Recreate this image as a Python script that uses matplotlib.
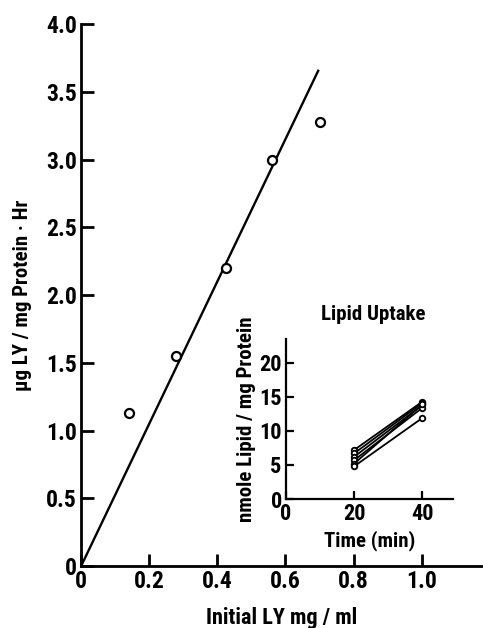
import matplotlib
matplotlib.use("Agg")
import matplotlib.pyplot as plt
from matplotlib import font_manager

# pick a narrow bold sans if one is around, otherwise Liberation Sans
available = {f.name for f in font_manager.fontManager.ttflist}
family = 'Liberation Sans'
for cand in ['Roboto Condensed', 'Liberation Sans Narrow', 'Archivo Narrow', 'PT Sans Narrow']:
    if cand in available:
        family = cand
        break
plt.rcParams['font.family'] = [family, 'DejaVu Sans']
plt.rcParams['font.weight'] = 'bold'

# main panel: LY uptake vs initial LY concentration
ly_conc = [0.14, 0.28, 0.425, 0.56, 0.70]
ly_rate = [1.13, 1.55, 2.20, 3.00, 3.28]
fit_x = [0.0, 0.696]
fit_y = [0.0, 3.655]
main_xticks = [0, 0.2, 0.4, 0.6, 0.8, 1.0]
main_xlabels = ["0", "0.2", "0.4", "0.6", "0.8", "1.0"]
main_yticks = [0, 0.5, 1.0, 1.5, 2.0, 2.5, 3.0, 3.5, 4.0]
main_ylabels = ["0", "0.5", "1.0", "1.5", "2.0", "2.5", "3.0", "3.5", "4.0"]

# inset: lipid uptake at 20 and 40 min
times = [20, 40]
lipid_20 = [7.2, 6.7, 6.2, 5.7, 5.2, 4.8]
lipid_40 = [14.3, 14.1, 13.8, 13.4, 13.9, 11.9]
inset_xticks = [0, 20, 40]
inset_yticks = [0, 5, 10, 15, 20]

fig = plt.figure(figsize=(4.83, 6.28), dpi=100)
ax = fig.add_axes([0.168, 0.0987, 0.832, 0.863])
ax.plot(fit_x, fit_y, color='black', lw=1.7)
ax.plot(ly_conc, ly_rate, 'o', mfc='white', mec='black', mew=1.6, ms=6.5)
ax.set_xlim(0, 1.18)
ax.set_ylim(0, 4.0)
ax.set_xticks(main_xticks)
ax.set_xticklabels(main_xlabels)
ax.set_yticks(main_yticks)
ax.set_yticklabels(main_ylabels)
for s in ['top', 'right']:
    ax.spines[s].set_visible(False)
for s in ['left', 'bottom']:
    ax.spines[s].set_linewidth(2)
ax.tick_params(direction='in', length=9, width=2, labelsize=17, pad=3)
ax.set_xlabel("Initial LY mg / ml", fontsize=16, fontweight='bold', labelpad=10)
ax.set_ylabel("\u03bcg LY / mg Protein \u00b7 Hr", fontsize=15, fontweight='bold', labelpad=10)

ins = fig.add_axes([0.592, 0.2054, 0.346, 0.2548])
for a, b in zip(lipid_20, lipid_40):
    ins.plot(times, [a, b], '-o', color='black', lw=1.3, mfc='white', mec='black', mew=1.3, ms=4)
ins.set_xlim(0, 49)
ins.set_ylim(0, 23.5)
ins.set_xticks(inset_xticks)
ins.set_yticks(inset_yticks)
ins.patch.set_alpha(0)
for s in ['top', 'right']:
    ins.spines[s].set_visible(False)
for s in ['left', 'bottom']:
    ins.spines[s].set_linewidth(1.6)
ins.tick_params(direction='in', length=6, width=1.6, labelsize=16, pad=3)
ins.set_xlabel("Time (min)", fontsize=15, fontweight='bold', labelpad=4)
ins.set_ylabel("nmole Lipid / mg Protein", fontsize=15, fontweight='bold', labelpad=2)
ins.set_title("Lipid Uptake", fontsize=15, fontweight='bold', pad=14, x=0.52)

fig.savefig("out.png", dpi=100)
